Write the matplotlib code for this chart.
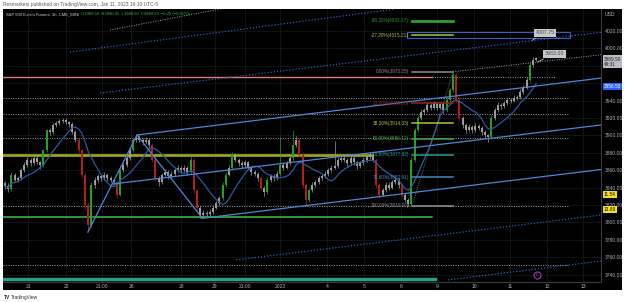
import numpy as np
import pandas as pd
import matplotlib
matplotlib.use("Agg")
import matplotlib.pyplot as plt
import matplotlib.transforms as mtrans
from matplotlib.patches import Rectangle

plt.rcParams['font.family'] = ['Liberation Sans', 'DejaVu Sans']

# ES 2h candles (open = previous close)
first_open = 3845
closes = [3842, 3838, 3855, 3849, 3851, 3860, 3866, 3872, 3868, 3874,
          3869, 3866, 3883, 3906, 3904, 3912, 3914, 3917, 3918, 3915,
          3913, 3904, 3895, 3883, 3855, 3820, 3797, 3843, 3849, 3853,
          3851, 3855, 3851, 3849, 3846, 3832, 3860, 3866, 3874, 3883,
          3895, 3898, 3895, 3892, 3895, 3889, 3872, 3851, 3846, 3855,
          3858, 3853, 3856, 3860, 3863, 3860, 3863, 3858, 3872, 3837,
          3817, 3809, 3811, 3810, 3812, 3817, 3822, 3828, 3843, 3855,
          3863, 3878, 3872, 3868, 3866, 3869, 3863, 3858, 3856, 3851,
          3840, 3835, 3849, 3853, 3851, 3856, 3866, 3863, 3868, 3874,
          3889, 3895, 3878, 3843, 3826, 3837, 3843, 3846, 3851, 3853,
          3856, 3860, 3863, 3865, 3872, 3874, 3872, 3868, 3874, 3869,
          3865, 3868, 3872, 3875, 3878, 3872, 3843, 3832, 3837, 3843,
          3840, 3846, 3849, 3843, 3832, 3826, 3821, 3872, 3906, 3920,
          3927, 3929, 3935, 3932, 3937, 3932, 3936, 3929, 3941, 3952,
          3970, 3941, 3920, 3912, 3906, 3910, 3906, 3911, 3909, 3904,
          3900, 3898, 3920, 3929, 3935, 3934, 3937, 3941, 3940, 3943,
          3944, 3950, 3955, 3964, 3981, 3987, 3989.5]
highs = [3848, 3845, 3858, 3857, 3854, 3863, 3869, 3875, 3874, 3877,
         3876, 3871, 3885, 3908, 3909, 3914, 3917, 3919, 3920, 3920,
         3917, 3915, 3906, 3897, 3885, 3857, 3823, 3846, 3852, 3856,
         3856, 3858, 3857, 3854, 3851, 3848, 3862, 3869, 3877, 3886,
         3897, 3901, 3900, 3897, 3898, 3897, 3891, 3874, 3853, 3857,
         3861, 3860, 3859, 3863, 3866, 3865, 3866, 3865, 3876, 3874,
         3839, 3819, 3814, 3813, 3815, 3820, 3825, 3831, 3846, 3858,
         3866, 3881, 3880, 3874, 3871, 3872, 3871, 3865, 3860, 3858,
         3853, 3842, 3852, 3856, 3856, 3859, 3898, 3869, 3871, 3877,
         3906, 3899, 3897, 3880, 3845, 3840, 3846, 3849, 3854, 3856,
         3859, 3863, 3866, 3894, 3875, 3877, 3877, 3874, 3877, 3876,
         3871, 3871, 3875, 3878, 3881, 3880, 3874, 3845, 3840, 3846,
         3846, 3849, 3852, 3851, 3845, 3834, 3828, 3875, 3909, 3923,
         3930, 3932, 3938, 3937, 3940, 3939, 3939, 3938, 3944, 3955,
         3973.25, 3972, 3943, 3922, 3914, 3913, 3912, 3914, 3913, 3911,
         3906, 3902, 3923, 3932, 3938, 3937, 3940, 3944, 3943, 3946,
         3947, 3953, 3958, 3967, 3984, 3990, 3990.25]
lows = [3839, 3835, 3836, 3847, 3846, 3849, 3858, 3864, 3865, 3866,
        3867, 3862, 3864, 3881, 3901, 3902, 3910, 3912, 3914, 3913,
        3910, 3902, 3892, 3880, 3852, 3816, 3789, 3795, 3840, 3847,
        3848, 3849, 3848, 3846, 3843, 3828, 3830, 3858, 3864, 3872,
        3881, 3893, 3892, 3889, 3890, 3886, 3869, 3848, 3842, 3844,
        3853, 3850, 3851, 3854, 3858, 3857, 3858, 3855, 3856, 3834,
        3813, 3805, 3806, 3807, 3808, 3810, 3815, 3820, 3826, 3841,
        3853, 3861, 3869, 3865, 3863, 3864, 3860, 3855, 3853, 3848,
        3837, 3831, 3833, 3847, 3848, 3849, 3854, 3860, 3861, 3866,
        3872, 3887, 3875, 3840, 3820, 3824, 3835, 3841, 3844, 3849,
        3851, 3854, 3858, 3861, 3863, 3870, 3869, 3865, 3866, 3866,
        3862, 3863, 3866, 3870, 3873, 3869, 3840, 3828, 3830, 3835,
        3837, 3838, 3844, 3840, 3829, 3823, 3819, 3820, 3870, 3904,
        3918, 3925, 3927, 3929, 3930, 3929, 3930, 3926, 3927, 3939,
        3950, 3938, 3917, 3909, 3903, 3904, 3903, 3904, 3906, 3901,
        3897, 3893, 3896, 3918, 3927, 3931, 3932, 3935, 3937, 3938,
        3941, 3942, 3948, 3953, 3962, 3979, 3986]

price_ticks = [3740, 3760, 3780, 3800, 3820, 3840, 3860, 3880, 3900,
               3920, 3940, 3960, 3980, 4000, 4020]
hidden_ticks = [3960]   # covered by the MA badge in the screenshot
time_labels = ['21', '22', '21:00', '26', '28', '29', '21:00', '2023',
               '4', '5', '6', '9', '10', '11', '12', '13']
time_pos = [7.2, 19.1, 30.3, 39.4, 55.0, 65.6, 75.0, 85.9,
            100.6, 112.2, 123.8, 135.0, 146.6, 157.8, 169.4, 180.6]

# horizontal levels: price, from bar, to bar
dotted_levels = [3943, 3924.6, 3896.8, 3819.3, 3751]
dotted_span = (-0.6, 175.9)
red_level = (3967, -0.6, 133.4)
olive_level = (3877.6, -0.6, 114.7)
green_level = (3806, -0.6, 133.4)
teal_level = (3735, -0.6, 134.4)

# fib retracement anchors (bar, price)
fib_low = (127.2, 3819.0)
fib_high = (140.0, 3973.25)
fib_levels = [-0.382, -0.272, 0, 0.236, 0.382, 0.5, 0.618, 0.786, 1]
fib_colors = ['#2e9e30', '#a9c43a', '#8a8d93', '#a02424', '#b3c23c',
              '#43a843', '#2a9d8f', '#4c87b8', '#8a8d93']

# trend / channel drawings: lists of (bar, price)
channel_lines = [
    [(41.25, 3900.6), (186.25, 3966.0)],
    [(33.75, 3844.3), (186.25, 3912.1)],
    [(61.6, 3804.8), (186.25, 3860.9)],
    [(25.9, 3789.0), (41.25, 3900.6), (61.6, 3805.2)],
]
blue_dotted = [
    [(29.7, 3948.8), (186.25, 4018.6)],
    [(20.3, 3996.0), (121.9, 4045.4)],
    [(72.2, 3757.0), (186.25, 3808.6)],
    [(138.4, 3734.0), (186.25, 3755.7)],
]
gray_dotted = [
    [(140.0, 3973.25), (186.25, 3992.8)],
    [(32.8, 4021.3), (68.8, 4046.5)],
]


def fx(px):
    return px / 625


def fy(py):
    return 1 - py / 302


fig = plt.figure(figsize=(6.25, 3.02), dpi=100)
fig.patch.set_facecolor('white')
fig.patches.append(Rectangle((fx(3), fy(290)), fx(622) - fx(3), fy(9) - fy(290),
                             transform=fig.transFigure, facecolor='black',
                             edgecolor='none', zorder=-5))

ax = fig.add_axes([fx(3), fy(282), fx(601) - fx(3), fy(9) - fy(282)])
ax.set_facecolor('black')
ax.set_xlim(-0.625, 186.25)
ax.set_ylim(3731.6, 4045.4)

# grid
ax.set_axisbelow(True)
ax.grid(True, color='#191b20', lw=0.5)

# candles
n = len(closes)
idx = np.arange(n)
opens = np.array([first_open] + closes[:-1], dtype=float)
cl = np.array(closes, dtype=float)
move = cl - opens
cols = np.where(move >= 10, '#25a025', np.where(move <= -10, '#b01e1e', '#9c9c9c'))
ax.vlines(idx, lows, highs, colors=cols, lw=0.5, zorder=3)
body_h = np.maximum(np.abs(move), 0.8)
ax.bar(idx, body_h, bottom=np.minimum(opens, cl), width=0.6, color=cols,
       linewidth=0, zorder=3)

# moving average
ma = pd.Series(cl).rolling(10, min_periods=1).mean()
ax.plot(idx, ma, color='#2c5aa0', lw=0.9, zorder=4)

# horizontal levels
for p in dotted_levels:
    ax.plot(dotted_span, [p, p], color='#a0a0a0', lw=0.7, ls=(0, (1, 1.5)), zorder=2)
ax.plot(red_level[1:], [red_level[0]] * 2, color='#e07a74', lw=1.0, zorder=2)
ax.plot([red_level[2], 171.9], [red_level[0]] * 2, color='#a0a0a0', lw=0.7,
        ls=(0, (1, 1.5)), zorder=2)
ax.plot(olive_level[1:], [olive_level[0]] * 2, color='#9aa11e', lw=2.0, zorder=2)
ax.plot(green_level[1:], [green_level[0]] * 2, color='#3fbf3f', lw=1.1, zorder=2)
ax.plot(teal_level[1:], [teal_level[0]] * 2, color='#1fa58a', lw=2.4, zorder=2)

# channels and trend lines
for pts in channel_lines:
    xs, ys = zip(*pts)
    ax.plot(xs, ys, color='#4f86d6', lw=0.9, zorder=5)
for pts in blue_dotted:
    xs, ys = zip(*pts)
    ax.plot(xs, ys, color='#2f5fc4', lw=0.9, ls=(0, (1, 1.5)), zorder=2)
for pts in gray_dotted:
    xs, ys = zip(*pts)
    ax.plot(xs, ys, color='#a0a0a0', lw=0.7, ls=(0, (1, 1.5)), zorder=2)

# fib retracement
rng = fib_high[1] - fib_low[1]
ax.plot([fib_low[0], fib_high[0]], [fib_low[1], fib_high[1]], color='#888',
        lw=0.6, ls=(0, (1, 1.5)), zorder=5)
for lvl, c in zip(fib_levels, fib_colors):
    p = fib_high[1] - lvl * rng
    ax.plot([fib_low[0], fib_high[0]], [p, p], color=c,
            lw=2.0 if lvl == -0.382 else 1.1, zorder=6)
    ax.text(fib_low[0] - 1.0, p, f"{lvl * 100:.2f}%({p:.2f})", color=c,
            fontsize=3.4, ha='right', va='center', zorder=6)

# target box
ax.add_patch(Rectangle((125.6, 4011.7), 51.0, 7.6, fill=False,
                       edgecolor='#3563c0', lw=0.8, zorder=5))

# callouts
for txt, tip, box in [('4007.75', (164.0, 4007.75), (168.8, 4018.2)),
                      ('3983.00', (165.6, 3983.0), (171.7, 3994.0))]:
    ax.annotate(txt, xy=tip, xytext=box, fontsize=3.8, color='#4a4a4a',
                ha='center', va='center', zorder=7,
                arrowprops=dict(arrowstyle='-', color='#b8b8b8', lw=0.6),
                bbox=dict(boxstyle='square,pad=0.3', fc='#c4c7cc', ec='none'))

# event marker
ax.plot(166.25, 3739.7, 'o', ms=5, mfc='none', mec='#8e44ad', mew=0.8, zorder=7)
ax.text(166.25, 3739.7, 'E', color='#8e44ad', fontsize=2.8, ha='center',
        va='center', zorder=7)

# axes
for s in ['top', 'left']:
    ax.spines[s].set_visible(False)
for s in ['right', 'bottom']:
    ax.spines[s].set_color('#3a3a3a')
    ax.spines[s].set_linewidth(0.8)
ax.yaxis.tick_right()
ax.set_yticks(price_ticks)
ax.set_yticklabels(['' if p in hidden_ticks else f"{p:.2f}" for p in price_ticks])
ax.tick_params(axis='y', length=0, pad=3, labelsize=3.6, labelcolor='#b2b5be')
ax.set_xticks(time_pos)
ax.set_xticklabels(time_labels)
ax.tick_params(axis='x', length=0, pad=1.8, labelsize=3.6, labelcolor='#b2b5be')

# price axis badges
trans = mtrans.blended_transform_factory(ax.transAxes, ax.transData)
badges = [('3989.50\n49:31', 3985.0, '#b8bcc4', '#222222'),
          ('3956.50', 3956.6, '#2962ff', 'white'),
          ('11.54', 3832.4, '#f2e21a', 'black'),
          ('13.89', 3814.7, '#f2e21a', 'black')]
for txt, p, fc, tc in badges:
    ax.text(1.005, p, txt, transform=trans, fontsize=3.4, color=tc, ha='left',
            va='center', linespacing=1.0, clip_on=False, zorder=8,
            bbox=dict(boxstyle='square,pad=0.25', fc=fc, ec='none'))

fig.text(fx(605), fy(14), 'USD', fontsize=3.6, color='#b2b5be', va='center')

# legend row
fig.text(fx(6), fy(14), 'S&P 500 E-mini Futures, 1h, CME_MINI', fontsize=3.0,
         color='#d1d4dc', va='center')
fig.text(fx(81), fy(14),
         'O3989.50  H3990.25  L3988.50  C3989.50  \u22120.25 (\u22120.01%)',
         fontsize=3.0, color='#2fbf4f', va='center')

# header / footer
fig.text(fx(3), fy(4.5),
         'Resmarkets published on TradingView.com, Jan 11, 2023 16:10 UTC-5',
         fontsize=3.5, color='#555555', va='center')
fig.text(fx(4), fy(297.5), 'TV', fontsize=3.5, color='#222222', va='center',
         fontweight='bold')
fig.text(fx(11), fy(297.5), 'TradingView', fontsize=3.5, color='#333333',
         va='center')

fig.savefig('out.png', dpi=100, facecolor='white')
